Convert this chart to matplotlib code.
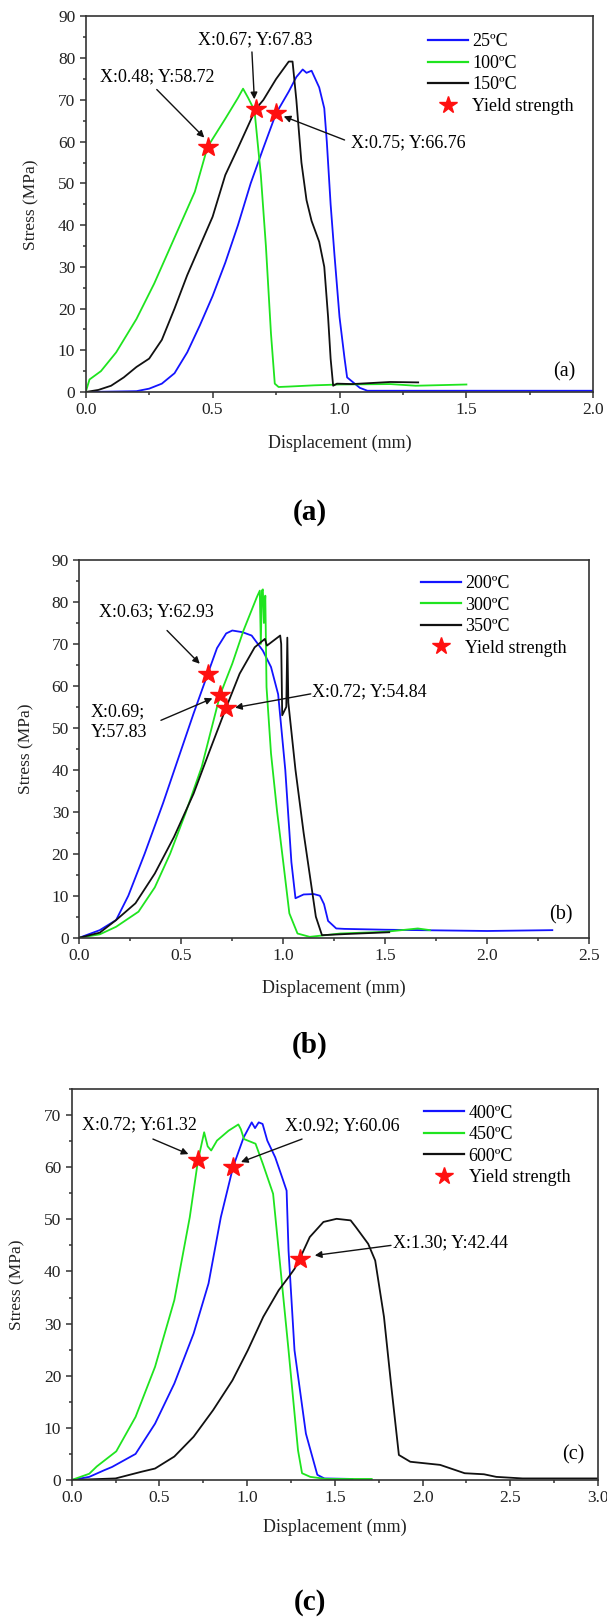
import matplotlib
matplotlib.use("Agg")
import matplotlib.pyplot as plt
from matplotlib.ticker import MultipleLocator
from matplotlib.lines import Line2D

plt.rcParams["font.family"] = ["Liberation Serif", "DejaVu Serif"]

BLUE = "#1414ff"
GREEN = "#1fe41f"
BLACK = "#111111"
STAR = "#ff1010"

# ── (a) 25 / 100 / 150 ºC ────────────────────────────────────────────────────
disp_25 = [0, 0.2, 0.25, 0.3, 0.35, 0.4, 0.45, 0.5, 0.55, 0.6, 0.65, 0.7, 0.75,
           0.8, 0.83, 0.855, 0.87, 0.89, 0.92, 0.94, 0.95, 0.965, 0.98, 1.0,
           1.02, 1.03, 1.05, 1.08, 1.11, 1.5, 2.0]
stress_25 = [0, 0.2, 0.8, 2, 4.5, 9.5, 16, 23, 31, 40, 50, 58.5, 66.76,
             72, 75.5, 77.3, 76.5, 77, 73, 68, 60, 45, 33, 18,
             8, 3.5, 2.5, 1, 0.3, 0.3, 0.3]

disp_100 = [0, 0.015, 0.06, 0.12, 0.2, 0.27, 0.35, 0.43, 0.48, 0.55, 0.6, 0.62,
            0.64, 0.665, 0.69, 0.71, 0.73, 0.745, 0.76, 0.8, 0.9, 1.0, 1.2, 1.3, 1.5]
stress_100 = [0, 3, 5, 9.5, 17.5, 26, 37, 48, 58.72, 65.5, 70.5, 72.7,
              70.5, 67.5, 52, 35, 14, 2, 1.2, 1.3, 1.6, 1.8, 1.9, 1.5, 1.8]

disp_150 = [0, 0.05, 0.1, 0.15, 0.2, 0.25, 0.3, 0.35, 0.4, 0.45, 0.5, 0.55, 0.6,
            0.67, 0.7, 0.75, 0.8, 0.815, 0.83, 0.85, 0.87, 0.89, 0.92, 0.94,
            0.955, 0.965, 0.975, 0.99, 1.05, 1.2, 1.31]
stress_150 = [0, 0.5, 1.5, 3.5, 6, 8, 12.5, 20, 28, 35, 42, 52, 58.5,
              67.83, 70, 75, 79.2, 79.2, 70, 55, 46, 41, 36, 30,
              18, 8, 1.5, 2, 1.9, 2.4, 2.3]

yield_a_x = [0.48, 0.67, 0.75]
yield_a_y = [58.72, 67.83, 66.76]

# ── (b) 200 / 300 / 350 ºC ───────────────────────────────────────────────────
disp_200 = [0, 0.1, 0.18, 0.24, 0.32, 0.41, 0.48, 0.56, 0.63, 0.675, 0.72, 0.75,
            0.8, 0.845, 0.9, 0.94, 0.975, 1.01, 1.04, 1.06, 1.1, 1.15, 1.18, 1.2,
            1.22, 1.26, 1.3, 1.5, 2.0, 2.32]
stress_200 = [0, 1.8, 4.2, 10, 20, 32, 42, 53.4, 62.93, 69, 72.5, 73.2,
              72.8, 72, 68.4, 64.5, 58, 40, 18, 9.4, 10.3, 10.4, 10, 8,
              4, 2.2, 2.1, 1.9, 1.6, 1.8]

disp_300 = [0, 0.1, 0.18, 0.29, 0.37, 0.445, 0.52, 0.6, 0.69, 0.75, 0.805, 0.87,
            0.885, 0.89, 0.895, 0.9, 0.905, 0.912, 0.918, 0.94, 0.97, 1.0, 1.03,
            1.07, 1.13, 1.28, 1.5, 1.66, 1.72]
stress_300 = [0, 0.8, 2.6, 6.2, 12, 20, 29.6, 40.7, 57.83, 65.3, 73.2, 81.1,
              82.7, 70, 82.7, 83, 75, 81.5, 59.7, 43.9, 30, 18, 5.8,
              1, 0.2, 1, 1.4, 2.2, 1.8]

disp_350 = [0, 0.1, 0.18, 0.275, 0.37, 0.464, 0.56, 0.634, 0.72, 0.786, 0.86,
            0.91, 0.92, 0.985, 0.99, 0.995, 1.015, 1.02, 1.025, 1.06, 1.1, 1.13,
            1.16, 1.19, 1.32, 1.52]
stress_350 = [0, 1.2, 4.2, 8.2, 15.3, 24, 34.3, 43.9, 54.84, 62.9, 69.2,
              71.2, 69.6, 72, 70, 53, 55, 71.5, 56, 40, 25, 15,
              5, 0.6, 0.9, 1.3]

yield_b_x = [0.63, 0.69, 0.72]
yield_b_y = [62.93, 57.83, 54.84]

# ── (c) 400 / 450 / 600 ºC ───────────────────────────────────────────────────
disp_400 = [0, 0.1, 0.187, 0.23, 0.364, 0.475, 0.585, 0.695, 0.78, 0.85, 0.92,
            0.98, 1.026, 1.045, 1.066, 1.088, 1.115, 1.16, 1.2, 1.225, 1.236,
            1.27, 1.335, 1.4, 1.44, 1.6]
stress_400 = [0, 0.6, 1.9, 2.5, 5, 10.8, 18.5, 28.1, 37.7, 50.4, 60.06,
              65.7, 68.6, 67.5, 68.6, 68.3, 65.1, 61.9, 58, 55.5, 44,
              24.9, 8.9, 1, 0.3, 0.2]

disp_450 = [0, 0.1, 0.143, 0.254, 0.364, 0.475, 0.585, 0.673, 0.72, 0.755, 0.775,
            0.795, 0.828, 0.894, 0.95, 0.964, 0.982, 1.048, 1.09, 1.148, 1.18,
            1.236, 1.29, 1.313, 1.36, 1.45, 1.71]
stress_450 = [0, 1.2, 2.6, 5.5, 12.1, 21.7, 34.5, 50.4, 61.32, 66.7, 64,
              63.2, 65.1, 67, 68.2, 67.3, 65.4, 64.5, 60.6, 54.9, 44,
              24.9, 5.7, 1.3, 0.6, 0.2, 0.2]

disp_600 = [0, 0.25, 0.4, 0.475, 0.585, 0.695, 0.806, 0.916, 1.004, 1.092, 1.18,
            1.236, 1.27, 1.30, 1.357, 1.435, 1.51, 1.59, 1.62, 1.69, 1.73, 1.78,
            1.82, 1.865, 1.93, 2.1, 2.24, 2.35, 2.42, 2.57, 3.0]
stress_600 = [0, 0.3, 1.6, 2.2, 4.5, 8.3, 13.4, 19.1, 24.9, 31.3, 36.4,
              38.9, 40.5, 42.44, 46.6, 49.5, 50.1, 49.8, 48.5, 45.3, 42.1, 31.3,
              18.5, 4.8, 3.5, 2.9, 1.3, 1.1, 0.6, 0.3, 0.3]

yield_c_x = [0.72, 0.92, 1.30]
yield_c_y = [61.32, 60.06, 42.44]

W, H = 607, 1621
fig = plt.figure(figsize=(W / 100, H / 100), dpi=100)


def px_axes(left, top, right, bottom):
    return fig.add_axes([left / W, 1 - bottom / H, (right - left) / W, (bottom - top) / H])


def style(ax, xmax, ymax, ylab_x, xlab_y):
    ax.set_xlim(0, xmax)
    ax.set_ylim(0, ymax)
    ax.xaxis.set_major_locator(MultipleLocator(0.5))
    ax.xaxis.set_minor_locator(MultipleLocator(0.25))
    ax.yaxis.set_major_locator(MultipleLocator(10))
    ax.yaxis.set_minor_locator(MultipleLocator(5))
    ax.tick_params(which="major", direction="out", length=4.5, width=1.1,
                   labelsize=12.5, color="#333333", labelcolor="#222222", pad=3)
    ax.tick_params(which="minor", direction="out", length=2.5, width=1.1, color="#333333")
    ax.xaxis.set_major_formatter(plt.FuncFormatter(lambda v, p: f"{v:.1f}"))
    for s in ax.spines.values():
        s.set_color("#333333")
        s.set_linewidth(1.2)
    ax.set_xlabel("Displacement (mm)", fontsize=13, color="#222222")
    ax.set_ylabel("Stress (MPa)", fontsize=12.5, color="#222222")
    ax.yaxis.set_label_coords(ylab_x, 0.5)
    ax.xaxis.set_label_coords(0.5, xlab_y)


def arrow(ax, start, end):
    ax.annotate("", xy=end, xytext=start,
                arrowprops=dict(arrowstyle="-|>", color="#111111", lw=1.0,
                                mutation_scale=10, shrinkA=0, shrinkB=2))


def legend(ax, labels, anchor):
    handles = [Line2D([], [], color=BLUE, lw=1.6),
               Line2D([], [], color=GREEN, lw=1.6),
               Line2D([], [], color=BLACK, lw=1.6),
               Line2D([], [], ls="none", marker="*", color=STAR, markersize=13)]
    ax.legend(handles, labels + ["Yield strength"], loc="upper left",
              bbox_to_anchor=anchor, frameon=False, fontsize=13,
              handlelength=2.2, handletextpad=0.25, labelspacing=0.25,
              borderpad=0, borderaxespad=0)


LW = 1.3
TXT = 13

# ── panel (a) ─────────────────────────────────────────────────────────────────
ax1 = px_axes(85.7, 16.5, 593.3, 392)
ax1.plot(disp_25, stress_25, color=BLUE, lw=LW)
ax1.plot(disp_100, stress_100, color=GREEN, lw=LW)
ax1.plot(disp_150, stress_150, color=BLACK, lw=LW)
ax1.plot(yield_a_x, yield_a_y, ls="none", marker="*", color=STAR, markersize=15, zorder=5)
style(ax1, 2.0, 90, -0.092, -0.115)
ax1.text(0.28, 75.5, "X:0.48; Y:58.72", ha="center", va="center", fontsize=TXT)
arrow(ax1, (0.28, 72.5), (0.475, 60.5))
ax1.text(0.67, 84.5, "X:0.67; Y:67.83", ha="center", va="center", fontsize=TXT)
arrow(ax1, (0.655, 81.5), (0.665, 69.5))
ax1.text(1.045, 59.6, "X:0.75; Y:66.76", ha="left", va="center", fontsize=TXT)
arrow(ax1, (1.02, 60.4), (0.77, 66.3))
ax1.text(1.93, 4.8, "(a)", ha="right", va="center", fontsize=14.5)
legend(ax1, ["25ºC", "100ºC", "150ºC"], (0.674, 0.955))

# ── panel (b) ─────────────────────────────────────────────────────────────────
ax2 = px_axes(79.4, 560, 589, 937.7)
ax2.plot(disp_200, stress_200, color=BLUE, lw=LW)
ax2.plot(disp_300, stress_300, color=GREEN, lw=LW)
ax2.plot(disp_350, stress_350, color=BLACK, lw=LW)
ax2.plot(yield_b_x, yield_b_y, ls="none", marker="*", color=STAR, markersize=15, zorder=5)
style(ax2, 2.5, 90, -0.088, -0.11)
ax2.text(0.38, 77.6, "X:0.63; Y:62.93", ha="center", va="center", fontsize=TXT)
arrow(ax2, (0.43, 73.2), (0.6, 64.8))
ax2.text(0.055, 51.4, "X:0.69;\nY:57.83", ha="left", va="center", fontsize=TXT,
         linespacing=1.3)
arrow(ax2, (0.4, 51.8), (0.665, 57.3))
ax2.text(1.14, 58.5, "X:0.72; Y:54.84", ha="left", va="center", fontsize=TXT)
arrow(ax2, (1.135, 58.1), (0.75, 54.7))
ax2.text(2.42, 5.4, "(b)", ha="right", va="center", fontsize=14.5)
legend(ax2, ["200ºC", "300ºC", "350ºC"], (0.67, 0.96))

# ── panel (c) ─────────────────────────────────────────────────────────────────
ax3 = px_axes(71.7, 1089, 598, 1480)
ax3.plot(disp_400, stress_400, color=BLUE, lw=LW)
ax3.plot(disp_450, stress_450, color=GREEN, lw=LW)
ax3.plot(disp_600, stress_600, color=BLACK, lw=LW)
ax3.plot(yield_c_x, yield_c_y, ls="none", marker="*", color=STAR, markersize=15, zorder=5)
style(ax3, 3.0, 75, -0.088, -0.1)
ax3.text(0.386, 68.2, "X:0.72; Y:61.32", ha="center", va="center", fontsize=TXT)
arrow(ax3, (0.463, 65.4), (0.68, 62.3))
ax3.text(1.545, 68.0, "X:0.92; Y:60.06", ha="center", va="center", fontsize=TXT)
arrow(ax3, (1.313, 65.4), (0.95, 60.8))
ax3.text(1.83, 45.4, "X:1.30; Y:42.44", ha="left", va="center", fontsize=TXT)
arrow(ax3, (1.82, 45.0), (1.37, 43.0))
ax3.text(2.92, 4.8, "(c)", ha="right", va="center", fontsize=14.5)
legend(ax3, ["400ºC", "450ºC", "600ºC"], (0.67, 0.96))

# ── panel captions ────────────────────────────────────────────────────────────
for label, ypx in [("(a)", 513), ("(b)", 1045), ("(c)", 1603)]:
    fig.text(310 / W, 1 - ypx / H, label, ha="center", va="center",
             fontsize=21, fontweight="bold")

fig.savefig("out.png", dpi=100)
